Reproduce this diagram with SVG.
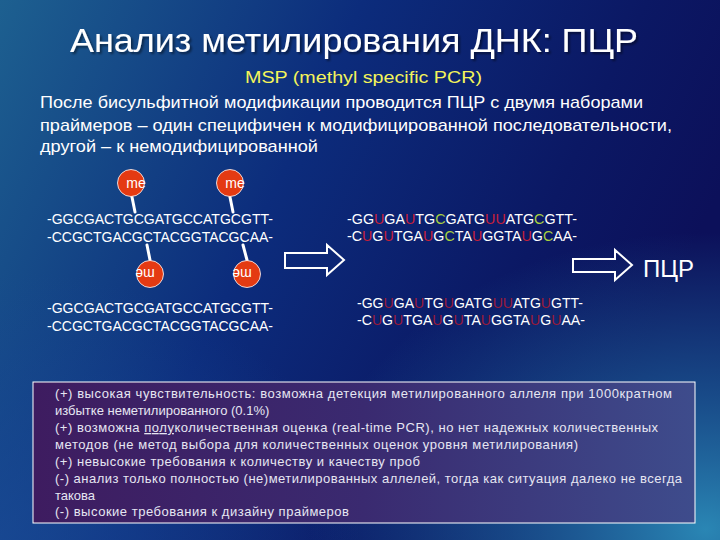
<svg xmlns="http://www.w3.org/2000/svg" width="720" height="540" viewBox="0 0 720 540">
<defs>
<linearGradient id="bg" x1="0" y1="0" x2="1" y2="0.35">
<stop offset="0" stop-color="#1d6090"/>
<stop offset="0.45" stop-color="#0c2c7c"/>
<stop offset="0.8" stop-color="#0b1864"/>
<stop offset="1" stop-color="#0c105a"/>
</linearGradient>
<radialGradient id="br" cx="0.98" cy="0.98" r="0.55">
<stop offset="0" stop-color="#2a86b4" stop-opacity="1"/>
<stop offset="0.5" stop-color="#1e68a0" stop-opacity="0.6"/>
<stop offset="1" stop-color="#1e68a0" stop-opacity="0"/>
</radialGradient>
<radialGradient id="bl" cx="0" cy="1" r="0.5">
<stop offset="0" stop-color="#1a4c98" stop-opacity="0.7"/>
<stop offset="1" stop-color="#1a4c98" stop-opacity="0"/>
</radialGradient>
<linearGradient id="box" x1="0" y1="0" x2="1" y2="0">
<stop offset="0" stop-color="#3e1c60"/>
<stop offset="0.5" stop-color="#3a2a70"/>
<stop offset="1" stop-color="#3e4c8c"/>
</linearGradient>
<filter id="shadow" x="-5%" y="-20%" width="110%" height="150%">
<feDropShadow dx="2" dy="2" stdDeviation="0.8" flood-color="#000000" flood-opacity="0.45"/>
</filter>
<style>
.title{font-family:"Liberation Sans",Arial,sans-serif;font-size:34px;fill:#ffffff}
.para{font-family:"Liberation Sans",Arial,sans-serif;font-size:17px;fill:#ffffff}
.seq{font-family:"Liberation Sans",Arial,sans-serif;font-size:14px;fill:#ffffff}
.u{fill:#c8203a}
.ud{fill:#9a1a3a}
.g{fill:#a8d040}
.me{font-family:"Liberation Sans",Arial,sans-serif;font-size:14px;fill:#ffffff;text-anchor:middle}
.ball{fill:#e43a12;stroke:#ffffff;stroke-width:0.8}
.stick{stroke:#ffffff;stroke-width:3;stroke-linecap:round}
.arrow{fill:none;stroke:#ffffff;stroke-width:2}
.box{font-family:"Liberation Sans",Arial,sans-serif;font-size:13px;fill:#e6e6f2}
</style>
</defs>
<rect width="720" height="540" fill="url(#bg)"/>
<rect width="720" height="540" fill="url(#bl)"/>
<rect width="720" height="540" fill="url(#br)"/>

<g id="title">
<text class="title" x="70" y="52" textLength="568" lengthAdjust="spacingAndGlyphs" filter="url(#shadow)">Анализ метилирования ДНК: ПЦР</text>
</g>
<g id="subtitle">
<text class="para" x="245" y="83" textLength="237" lengthAdjust="spacingAndGlyphs" style="fill:#f4f45a">MSP (methyl specific PCR)</text>
</g>
<g id="intro">
<text class="para" x="40" y="108" textLength="603" lengthAdjust="spacingAndGlyphs">После бисульфитной модификации проводится ПЦР с двумя наборами</text>
<text class="para" x="40" y="131" textLength="632" lengthAdjust="spacingAndGlyphs">праймеров – один специфичен к модифицированной последовательности,</text>
<text class="para" x="40" y="152" textLength="278" lengthAdjust="spacingAndGlyphs">другой – к немодифицированной</text>
</g>

<g id="methyl-dna">
<line class="stick" x1="132" y1="197" x2="135" y2="212"/>
<line class="stick" x1="230" y1="197" x2="233" y2="212"/>
<circle class="ball" cx="131" cy="183" r="13.5"/>
<circle class="ball" cx="230" cy="183" r="13.5"/>
<text class="me" x="136" y="188">me</text>
<text class="me" x="235" y="188">me</text>
<text class="seq" x="47" y="224" textLength="226" lengthAdjust="spacingAndGlyphs">-GGCGACTGCGATGCCATGCGTT-</text>
<text class="seq" x="47" y="242" textLength="226" lengthAdjust="spacingAndGlyphs">-CCGCTGACGCTACGGTACGCAA-</text>
<line class="stick" x1="147" y1="245" x2="150" y2="260"/>
<line class="stick" x1="243" y1="245" x2="247" y2="260"/>
<circle class="ball" cx="150" cy="274" r="13.5"/>
<circle class="ball" cx="247" cy="274" r="13.5"/>
<text class="me" x="155" y="279" transform="rotate(180 150 274)">me</text>
<text class="me" x="252" y="279" transform="rotate(180 247 274)">me</text>
</g>

<g id="unmethyl-dna">
<text class="seq" x="47" y="313" textLength="226" lengthAdjust="spacingAndGlyphs">-GGCGACTGCGATGCCATGCGTT-</text>
<text class="seq" x="47" y="331" textLength="226" lengthAdjust="spacingAndGlyphs">-CCGCTGACGCTACGGTACGCAA-</text>
</g>

<g id="methyl-converted">
<text class="seq" x="347" y="224" textLength="230" lengthAdjust="spacingAndGlyphs">-GG<tspan class="u">U</tspan>GA<tspan class="u">U</tspan>TG<tspan class="g">C</tspan>GATG<tspan class="u">UU</tspan>ATG<tspan class="g">C</tspan>GTT-</text>
<text class="seq" x="347" y="241" textLength="230" lengthAdjust="spacingAndGlyphs">-C<tspan class="u">U</tspan>G<tspan class="u">U</tspan>TGA<tspan class="u">U</tspan>G<tspan class="g">C</tspan>TA<tspan class="u">U</tspan>GGTA<tspan class="u">U</tspan>G<tspan class="g">C</tspan>AA-</text>
</g>

<g id="unmethyl-converted">
<text class="seq" x="357" y="308" textLength="226" lengthAdjust="spacingAndGlyphs">-GG<tspan class="ud">U</tspan>GA<tspan class="ud">U</tspan>TG<tspan class="ud">U</tspan>GATG<tspan class="ud">UU</tspan>ATG<tspan class="ud">U</tspan>GTT-</text>
<text class="seq" x="357" y="325" textLength="228" lengthAdjust="spacingAndGlyphs">-C<tspan class="ud">U</tspan>G<tspan class="ud">U</tspan>TGA<tspan class="ud">U</tspan>G<tspan class="ud">U</tspan>TA<tspan class="ud">U</tspan>GGTA<tspan class="ud">U</tspan>G<tspan class="ud">U</tspan>AA-</text>
</g>

<g id="connectors">
<polygon class="arrow" points="285,253 327,253 327,245 344,260 327,275 327,268 285,268"/>
<polygon class="arrow" points="573,259 615,259 615,250 632,265 615,280 615,272 573,272"/>
</g>
<g id="pcr-label">
<text class="para" x="643" y="277" style="font-size:24px">ПЦР</text>
</g>

<g id="notes">
<rect x="33" y="382" width="662" height="141" fill="url(#box)" stroke="#ffffff" stroke-width="1"/>
<text class="box" x="55" y="398" textLength="617" lengthAdjust="spacing">(+) высокая чувствительность: возможна детекция метилированного аллеля при 1000кратном</text>
<text class="box" x="55" y="415">избытке неметилированного (0.1%)</text>
<text class="box" x="55" y="432" textLength="603" lengthAdjust="spacing">(+) возможна <tspan text-decoration="underline">полу</tspan>количественная оценка (real-time PCR), но нет надежных количественных</text>
<text class="box" x="55" y="449" textLength="523" lengthAdjust="spacing">методов (не метод выбора для количественных оценок уровня метилирования)</text>
<text class="box" x="55" y="466" textLength="365" lengthAdjust="spacing">(+) невысокие требования к количеству и качеству проб</text>
<text class="box" x="55" y="483" textLength="627" lengthAdjust="spacing">(-) анализ только полностью (не)метилированных аллелей, тогда как ситуация далеко не всегда</text>
<text class="box" x="55" y="500">такова</text>
<text class="box" x="55" y="516" textLength="294" lengthAdjust="spacing">(-) высокие требования к дизайну праймеров</text>
</g>
</svg>
